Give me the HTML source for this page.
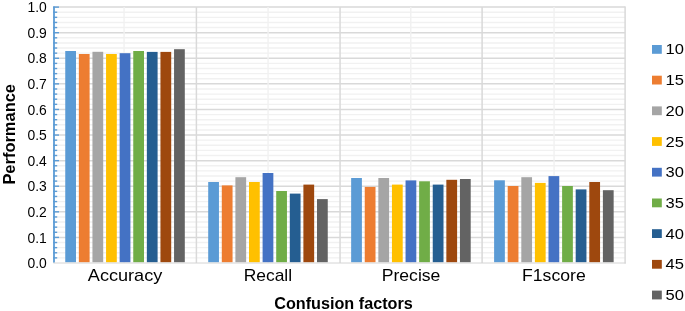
<!DOCTYPE html>
<html lang="en"><head><meta charset="utf-8"><title>Performance by confusion factors</title>
<style>html,body{margin:0;padding:0;background:#fff;}body{width:685px;height:311px;overflow:hidden;}svg{display:block;}text{font-family:"Liberation Sans",sans-serif;fill:#000;}</style>
</head><body>
<svg width="685" height="311" viewBox="0 0 685 311">
<rect x="0" y="0" width="685" height="311" fill="#fff"/>
<g stroke="#F1F1F1" stroke-width="1.4">
<line x1="53.50" y1="257.88" x2="625.30" y2="257.88"/>
<line x1="53.50" y1="252.76" x2="625.30" y2="252.76"/>
<line x1="53.50" y1="247.65" x2="625.30" y2="247.65"/>
<line x1="53.50" y1="242.53" x2="625.30" y2="242.53"/>
<line x1="53.50" y1="232.29" x2="625.30" y2="232.29"/>
<line x1="53.50" y1="227.17" x2="625.30" y2="227.17"/>
<line x1="53.50" y1="222.06" x2="625.30" y2="222.06"/>
<line x1="53.50" y1="216.94" x2="625.30" y2="216.94"/>
<line x1="53.50" y1="206.70" x2="625.30" y2="206.70"/>
<line x1="53.50" y1="201.58" x2="625.30" y2="201.58"/>
<line x1="53.50" y1="196.47" x2="625.30" y2="196.47"/>
<line x1="53.50" y1="191.35" x2="625.30" y2="191.35"/>
<line x1="53.50" y1="181.11" x2="625.30" y2="181.11"/>
<line x1="53.50" y1="175.99" x2="625.30" y2="175.99"/>
<line x1="53.50" y1="170.88" x2="625.30" y2="170.88"/>
<line x1="53.50" y1="165.76" x2="625.30" y2="165.76"/>
<line x1="53.50" y1="155.52" x2="625.30" y2="155.52"/>
<line x1="53.50" y1="150.40" x2="625.30" y2="150.40"/>
<line x1="53.50" y1="145.29" x2="625.30" y2="145.29"/>
<line x1="53.50" y1="140.17" x2="625.30" y2="140.17"/>
<line x1="53.50" y1="129.93" x2="625.30" y2="129.93"/>
<line x1="53.50" y1="124.81" x2="625.30" y2="124.81"/>
<line x1="53.50" y1="119.70" x2="625.30" y2="119.70"/>
<line x1="53.50" y1="114.58" x2="625.30" y2="114.58"/>
<line x1="53.50" y1="104.34" x2="625.30" y2="104.34"/>
<line x1="53.50" y1="99.22" x2="625.30" y2="99.22"/>
<line x1="53.50" y1="94.11" x2="625.30" y2="94.11"/>
<line x1="53.50" y1="88.99" x2="625.30" y2="88.99"/>
<line x1="53.50" y1="78.75" x2="625.30" y2="78.75"/>
<line x1="53.50" y1="73.63" x2="625.30" y2="73.63"/>
<line x1="53.50" y1="68.52" x2="625.30" y2="68.52"/>
<line x1="53.50" y1="63.40" x2="625.30" y2="63.40"/>
<line x1="53.50" y1="53.16" x2="625.30" y2="53.16"/>
<line x1="53.50" y1="48.04" x2="625.30" y2="48.04"/>
<line x1="53.50" y1="42.93" x2="625.30" y2="42.93"/>
<line x1="53.50" y1="37.81" x2="625.30" y2="37.81"/>
<line x1="53.50" y1="27.57" x2="625.30" y2="27.57"/>
<line x1="53.50" y1="22.45" x2="625.30" y2="22.45"/>
<line x1="53.50" y1="17.34" x2="625.30" y2="17.34"/>
<line x1="53.50" y1="12.22" x2="625.30" y2="12.22"/>
</g>
<g stroke="#D9D9D9" stroke-width="1.5">
<line x1="53.50" y1="237.41" x2="625.30" y2="237.41"/>
<line x1="53.50" y1="211.82" x2="625.30" y2="211.82"/>
<line x1="53.50" y1="186.23" x2="625.30" y2="186.23"/>
<line x1="53.50" y1="160.64" x2="625.30" y2="160.64"/>
<line x1="53.50" y1="135.05" x2="625.30" y2="135.05"/>
<line x1="53.50" y1="109.46" x2="625.30" y2="109.46"/>
<line x1="53.50" y1="83.87" x2="625.30" y2="83.87"/>
<line x1="53.50" y1="58.28" x2="625.30" y2="58.28"/>
<line x1="53.50" y1="32.69" x2="625.30" y2="32.69"/>
<line x1="53.50" y1="7.10" x2="625.30" y2="7.10"/>
</g>
<g stroke="#D9D9D9" stroke-width="1.5">
<line x1="196.40" y1="7.10" x2="196.40" y2="263.00"/>
<line x1="340.06" y1="7.10" x2="340.06" y2="263.00"/>
<line x1="482.10" y1="7.10" x2="482.10" y2="263.00"/>
</g>
<g stroke="#F1F1F1" stroke-width="1.4">
<line x1="124.10" y1="7.10" x2="124.10" y2="263.00"/>
<line x1="268.06" y1="7.10" x2="268.06" y2="263.00"/>
<line x1="410.77" y1="7.10" x2="410.77" y2="263.00"/>
<line x1="554.06" y1="7.10" x2="554.06" y2="263.00"/>
</g>
<line x1="625.10" y1="6.40" x2="625.10" y2="263.50" stroke="#D9D9D9" stroke-width="1.5"/>
<g>
<rect x="65.25" y="51.00" width="10.75" height="211.30" fill="#5B9BD5"/>
<rect x="78.85" y="54.00" width="10.75" height="208.30" fill="#ED7D31"/>
<rect x="92.45" y="51.80" width="10.75" height="210.50" fill="#A5A5A5"/>
<rect x="106.05" y="54.00" width="10.75" height="208.30" fill="#FFC000"/>
<rect x="119.65" y="53.20" width="10.75" height="209.10" fill="#4472C4"/>
<rect x="133.25" y="51.00" width="10.75" height="211.30" fill="#70AD47"/>
<rect x="146.85" y="51.90" width="10.75" height="210.40" fill="#255E91"/>
<rect x="160.45" y="51.90" width="10.75" height="210.40" fill="#9E480E"/>
<rect x="174.05" y="49.20" width="10.75" height="213.10" fill="#636363"/>
</g>
<g>
<rect x="208.20" y="182.00" width="10.75" height="80.30" fill="#5B9BD5"/>
<rect x="221.80" y="185.40" width="10.75" height="76.90" fill="#ED7D31"/>
<rect x="235.40" y="177.20" width="10.75" height="85.10" fill="#A5A5A5"/>
<rect x="249.00" y="182.00" width="10.75" height="80.30" fill="#FFC000"/>
<rect x="262.60" y="173.00" width="10.75" height="89.30" fill="#4472C4"/>
<rect x="276.20" y="191.00" width="10.75" height="71.30" fill="#70AD47"/>
<rect x="289.80" y="193.60" width="10.75" height="68.70" fill="#255E91"/>
<rect x="303.40" y="184.60" width="10.75" height="77.70" fill="#9E480E"/>
<rect x="317.00" y="199.10" width="10.75" height="63.20" fill="#636363"/>
</g>
<g>
<rect x="351.15" y="178.00" width="10.75" height="84.30" fill="#5B9BD5"/>
<rect x="364.75" y="186.90" width="10.75" height="75.40" fill="#ED7D31"/>
<rect x="378.35" y="178.00" width="10.75" height="84.30" fill="#A5A5A5"/>
<rect x="391.95" y="184.60" width="10.75" height="77.70" fill="#FFC000"/>
<rect x="405.55" y="180.40" width="10.75" height="81.90" fill="#4472C4"/>
<rect x="419.15" y="181.30" width="10.75" height="81.00" fill="#70AD47"/>
<rect x="432.75" y="184.60" width="10.75" height="77.70" fill="#255E91"/>
<rect x="446.35" y="179.80" width="10.75" height="82.50" fill="#9E480E"/>
<rect x="459.95" y="179.00" width="10.75" height="83.30" fill="#636363"/>
</g>
<g>
<rect x="494.10" y="180.30" width="10.75" height="82.00" fill="#5B9BD5"/>
<rect x="507.70" y="186.00" width="10.75" height="76.30" fill="#ED7D31"/>
<rect x="521.30" y="177.20" width="10.75" height="85.10" fill="#A5A5A5"/>
<rect x="534.90" y="182.90" width="10.75" height="79.40" fill="#FFC000"/>
<rect x="548.50" y="176.10" width="10.75" height="86.20" fill="#4472C4"/>
<rect x="562.10" y="186.00" width="10.75" height="76.30" fill="#70AD47"/>
<rect x="575.70" y="189.40" width="10.75" height="72.90" fill="#255E91"/>
<rect x="589.30" y="182.00" width="10.75" height="80.30" fill="#9E480E"/>
<rect x="602.90" y="190.20" width="10.75" height="72.10" fill="#636363"/>
</g>
<g stroke="#5B9BD5" stroke-width="1.4">
<line x1="54.00" y1="6.40" x2="54.00" y2="262.80" stroke-width="1.8"/>
<line x1="53.20" y1="257.88" x2="57.20" y2="257.88"/>
<line x1="53.20" y1="252.76" x2="57.20" y2="252.76"/>
<line x1="53.20" y1="247.65" x2="57.20" y2="247.65"/>
<line x1="53.20" y1="242.53" x2="57.20" y2="242.53"/>
<line x1="53.20" y1="237.41" x2="59.00" y2="237.41"/>
<line x1="53.20" y1="232.29" x2="57.20" y2="232.29"/>
<line x1="53.20" y1="227.17" x2="57.20" y2="227.17"/>
<line x1="53.20" y1="222.06" x2="57.20" y2="222.06"/>
<line x1="53.20" y1="216.94" x2="57.20" y2="216.94"/>
<line x1="53.20" y1="211.82" x2="59.00" y2="211.82"/>
<line x1="53.20" y1="206.70" x2="57.20" y2="206.70"/>
<line x1="53.20" y1="201.58" x2="57.20" y2="201.58"/>
<line x1="53.20" y1="196.47" x2="57.20" y2="196.47"/>
<line x1="53.20" y1="191.35" x2="57.20" y2="191.35"/>
<line x1="53.20" y1="186.23" x2="59.00" y2="186.23"/>
<line x1="53.20" y1="181.11" x2="57.20" y2="181.11"/>
<line x1="53.20" y1="175.99" x2="57.20" y2="175.99"/>
<line x1="53.20" y1="170.88" x2="57.20" y2="170.88"/>
<line x1="53.20" y1="165.76" x2="57.20" y2="165.76"/>
<line x1="53.20" y1="160.64" x2="59.00" y2="160.64"/>
<line x1="53.20" y1="155.52" x2="57.20" y2="155.52"/>
<line x1="53.20" y1="150.40" x2="57.20" y2="150.40"/>
<line x1="53.20" y1="145.29" x2="57.20" y2="145.29"/>
<line x1="53.20" y1="140.17" x2="57.20" y2="140.17"/>
<line x1="53.20" y1="135.05" x2="59.00" y2="135.05"/>
<line x1="53.20" y1="129.93" x2="57.20" y2="129.93"/>
<line x1="53.20" y1="124.81" x2="57.20" y2="124.81"/>
<line x1="53.20" y1="119.70" x2="57.20" y2="119.70"/>
<line x1="53.20" y1="114.58" x2="57.20" y2="114.58"/>
<line x1="53.20" y1="109.46" x2="59.00" y2="109.46"/>
<line x1="53.20" y1="104.34" x2="57.20" y2="104.34"/>
<line x1="53.20" y1="99.22" x2="57.20" y2="99.22"/>
<line x1="53.20" y1="94.11" x2="57.20" y2="94.11"/>
<line x1="53.20" y1="88.99" x2="57.20" y2="88.99"/>
<line x1="53.20" y1="83.87" x2="59.00" y2="83.87"/>
<line x1="53.20" y1="78.75" x2="57.20" y2="78.75"/>
<line x1="53.20" y1="73.63" x2="57.20" y2="73.63"/>
<line x1="53.20" y1="68.52" x2="57.20" y2="68.52"/>
<line x1="53.20" y1="63.40" x2="57.20" y2="63.40"/>
<line x1="53.20" y1="58.28" x2="59.00" y2="58.28"/>
<line x1="53.20" y1="53.16" x2="57.20" y2="53.16"/>
<line x1="53.20" y1="48.04" x2="57.20" y2="48.04"/>
<line x1="53.20" y1="42.93" x2="57.20" y2="42.93"/>
<line x1="53.20" y1="37.81" x2="57.20" y2="37.81"/>
<line x1="53.20" y1="32.69" x2="59.00" y2="32.69"/>
<line x1="53.20" y1="27.57" x2="57.20" y2="27.57"/>
<line x1="53.20" y1="22.45" x2="57.20" y2="22.45"/>
<line x1="53.20" y1="17.34" x2="57.20" y2="17.34"/>
<line x1="53.20" y1="12.22" x2="57.20" y2="12.22"/>
<line x1="53.20" y1="7.10" x2="59.00" y2="7.10"/>
</g>
<line x1="53.40" y1="263.00" x2="625.90" y2="263.00" stroke="#D4D4D4" stroke-width="1.0"/>
<g font-size="14.7px">
<text x="27.5" y="268.10" textLength="19.3" lengthAdjust="spacingAndGlyphs">0.0</text>
<text x="27.5" y="242.51" textLength="19.3" lengthAdjust="spacingAndGlyphs">0.1</text>
<text x="27.5" y="216.92" textLength="19.3" lengthAdjust="spacingAndGlyphs">0.2</text>
<text x="27.5" y="191.33" textLength="19.3" lengthAdjust="spacingAndGlyphs">0.3</text>
<text x="27.5" y="165.74" textLength="19.3" lengthAdjust="spacingAndGlyphs">0.4</text>
<text x="27.5" y="140.15" textLength="19.3" lengthAdjust="spacingAndGlyphs">0.5</text>
<text x="27.5" y="114.56" textLength="19.3" lengthAdjust="spacingAndGlyphs">0.6</text>
<text x="27.5" y="88.97" textLength="19.3" lengthAdjust="spacingAndGlyphs">0.7</text>
<text x="27.5" y="63.38" textLength="19.3" lengthAdjust="spacingAndGlyphs">0.8</text>
<text x="27.5" y="37.79" textLength="19.3" lengthAdjust="spacingAndGlyphs">0.9</text>
<text x="27.5" y="12.20" textLength="19.3" lengthAdjust="spacingAndGlyphs">1.0</text>
</g>
<g font-size="16.6px">
<text x="87.80" y="281.1" textLength="74.50" lengthAdjust="spacingAndGlyphs">Accuracy</text>
<text x="243.70" y="281.1" textLength="48.40" lengthAdjust="spacingAndGlyphs">Recall</text>
<text x="381.70" y="281.1" textLength="58.70" lengthAdjust="spacingAndGlyphs">Precise</text>
<text x="522.00" y="281.1" textLength="63.70" lengthAdjust="spacingAndGlyphs">F1score</text>
</g>
<text x="274.2" y="308.8" font-size="16.3px" font-weight="bold" textLength="138.6" lengthAdjust="spacingAndGlyphs">Confusion factors</text>
<text transform="translate(14.5,184.6) rotate(-90)" font-size="15.9px" font-weight="bold" textLength="100.6" lengthAdjust="spacingAndGlyphs">Performance</text>
<g font-size="15.3px">
<rect x="652" y="45.00" width="9.8" height="8.8" fill="#5B9BD5"/>
<text x="665.6" y="54.40" textLength="18.4" lengthAdjust="spacingAndGlyphs">10</text>
<rect x="652" y="75.70" width="9.8" height="8.8" fill="#ED7D31"/>
<text x="665.6" y="85.10" textLength="18.4" lengthAdjust="spacingAndGlyphs">15</text>
<rect x="652" y="106.40" width="9.8" height="8.8" fill="#A5A5A5"/>
<text x="665.6" y="115.80" textLength="18.4" lengthAdjust="spacingAndGlyphs">20</text>
<rect x="652" y="137.10" width="9.8" height="8.8" fill="#FFC000"/>
<text x="665.6" y="146.50" textLength="18.4" lengthAdjust="spacingAndGlyphs">25</text>
<rect x="652" y="167.80" width="9.8" height="8.8" fill="#4472C4"/>
<text x="665.6" y="177.20" textLength="18.4" lengthAdjust="spacingAndGlyphs">30</text>
<rect x="652" y="198.50" width="9.8" height="8.8" fill="#70AD47"/>
<text x="665.6" y="207.90" textLength="18.4" lengthAdjust="spacingAndGlyphs">35</text>
<rect x="652" y="229.20" width="9.8" height="8.8" fill="#255E91"/>
<text x="665.6" y="238.60" textLength="18.4" lengthAdjust="spacingAndGlyphs">40</text>
<rect x="652" y="259.90" width="9.8" height="8.8" fill="#9E480E"/>
<text x="665.6" y="269.30" textLength="18.4" lengthAdjust="spacingAndGlyphs">45</text>
<rect x="652" y="290.60" width="9.8" height="8.8" fill="#636363"/>
<text x="665.6" y="300.00" textLength="18.4" lengthAdjust="spacingAndGlyphs">50</text>
</g>
</svg>
</body></html>
